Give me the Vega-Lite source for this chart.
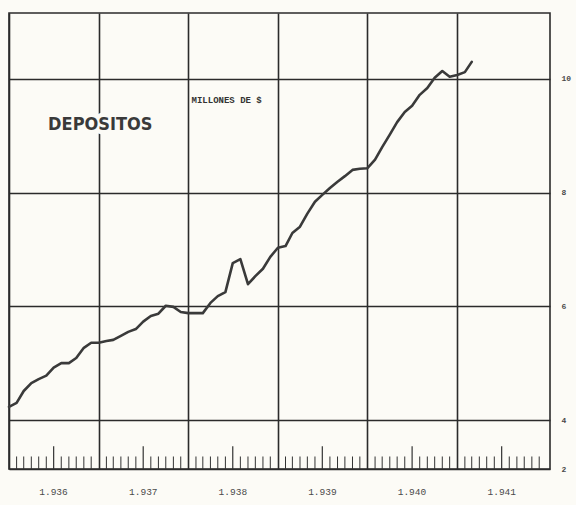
{
  "$schema": "https://vega.github.io/schema/vega-lite/v6.json",
  "width": 541,
  "height": 456,
  "autosize": {"type": "none"},
  "padding": {"left": 9, "top": 13, "right": 26, "bottom": 36},
  "background": "#fcfbf6",
  "config": {
    "view": {"stroke": "#2b2b2b", "strokeWidth": 1.6},
    "axis": {"domain": false}
  },
  "datasets": {
    "depositos": [
      {"fecha": "1936-01", "millones": 4.23}, {"fecha": "1936-02", "millones": 4.30}, {"fecha": "1936-03", "millones": 4.51}, {"fecha": "1936-04", "millones": 4.65}, {"fecha": "1936-05", "millones": 4.72}, {"fecha": "1936-06", "millones": 4.78}, {"fecha": "1936-07", "millones": 4.92}, {"fecha": "1936-08", "millones": 5.00}, {"fecha": "1936-09", "millones": 5.00}, {"fecha": "1936-10", "millones": 5.09}, {"fecha": "1936-11", "millones": 5.27}, {"fecha": "1936-12", "millones": 5.36},
      {"fecha": "1937-01", "millones": 5.36}, {"fecha": "1937-02", "millones": 5.39}, {"fecha": "1937-03", "millones": 5.41}, {"fecha": "1937-04", "millones": 5.48}, {"fecha": "1937-05", "millones": 5.55}, {"fecha": "1937-06", "millones": 5.60}, {"fecha": "1937-07", "millones": 5.73}, {"fecha": "1937-08", "millones": 5.83}, {"fecha": "1937-09", "millones": 5.87}, {"fecha": "1937-10", "millones": 6.01}, {"fecha": "1937-11", "millones": 5.99}, {"fecha": "1937-12", "millones": 5.90},
      {"fecha": "1938-01", "millones": 5.88}, {"fecha": "1938-02", "millones": 5.88}, {"fecha": "1938-03", "millones": 5.88}, {"fecha": "1938-04", "millones": 6.06}, {"fecha": "1938-05", "millones": 6.18}, {"fecha": "1938-06", "millones": 6.25}, {"fecha": "1938-07", "millones": 6.76}, {"fecha": "1938-08", "millones": 6.83}, {"fecha": "1938-09", "millones": 6.39}, {"fecha": "1938-10", "millones": 6.53}, {"fecha": "1938-11", "millones": 6.66}, {"fecha": "1938-12", "millones": 6.87},
      {"fecha": "1939-01", "millones": 7.03}, {"fecha": "1939-02", "millones": 7.06}, {"fecha": "1939-03", "millones": 7.29}, {"fecha": "1939-04", "millones": 7.40}, {"fecha": "1939-05", "millones": 7.63}, {"fecha": "1939-06", "millones": 7.84}, {"fecha": "1939-07", "millones": 7.96}, {"fecha": "1939-08", "millones": 8.08}, {"fecha": "1939-09", "millones": 8.19}, {"fecha": "1939-10", "millones": 8.29}, {"fecha": "1939-11", "millones": 8.40}, {"fecha": "1939-12", "millones": 8.42},
      {"fecha": "1940-01", "millones": 8.43}, {"fecha": "1940-02", "millones": 8.58}, {"fecha": "1940-03", "millones": 8.80}, {"fecha": "1940-04", "millones": 9.02}, {"fecha": "1940-05", "millones": 9.24}, {"fecha": "1940-06", "millones": 9.42}, {"fecha": "1940-07", "millones": 9.53}, {"fecha": "1940-08", "millones": 9.72}, {"fecha": "1940-09", "millones": 9.84}, {"fecha": "1940-10", "millones": 10.02}, {"fecha": "1940-11", "millones": 10.14}, {"fecha": "1940-12", "millones": 10.04},
      {"fecha": "1941-01", "millones": 10.07}, {"fecha": "1941-02", "millones": 10.12}, {"fecha": "1941-03", "millones": 10.30}
    ],
    "meses": [
      {"fecha": "1936-02"}, {"fecha": "1936-03"}, {"fecha": "1936-04"}, {"fecha": "1936-05"}, {"fecha": "1936-06"}, {"fecha": "1936-08"}, {"fecha": "1936-09"}, {"fecha": "1936-10"}, {"fecha": "1936-11"}, {"fecha": "1936-12"},
      {"fecha": "1937-02"}, {"fecha": "1937-03"}, {"fecha": "1937-04"}, {"fecha": "1937-05"}, {"fecha": "1937-06"}, {"fecha": "1937-08"}, {"fecha": "1937-09"}, {"fecha": "1937-10"}, {"fecha": "1937-11"}, {"fecha": "1937-12"},
      {"fecha": "1938-02"}, {"fecha": "1938-03"}, {"fecha": "1938-04"}, {"fecha": "1938-05"}, {"fecha": "1938-06"}, {"fecha": "1938-08"}, {"fecha": "1938-09"}, {"fecha": "1938-10"}, {"fecha": "1938-11"}, {"fecha": "1938-12"},
      {"fecha": "1939-02"}, {"fecha": "1939-03"}, {"fecha": "1939-04"}, {"fecha": "1939-05"}, {"fecha": "1939-06"}, {"fecha": "1939-08"}, {"fecha": "1939-09"}, {"fecha": "1939-10"}, {"fecha": "1939-11"}, {"fecha": "1939-12"},
      {"fecha": "1940-02"}, {"fecha": "1940-03"}, {"fecha": "1940-04"}, {"fecha": "1940-05"}, {"fecha": "1940-06"}, {"fecha": "1940-08"}, {"fecha": "1940-09"}, {"fecha": "1940-10"}, {"fecha": "1940-11"}, {"fecha": "1940-12"},
      {"fecha": "1941-02"}, {"fecha": "1941-03"}, {"fecha": "1941-04"}, {"fecha": "1941-05"}, {"fecha": "1941-06"}, {"fecha": "1941-08"}, {"fecha": "1941-09"}, {"fecha": "1941-10"}, {"fecha": "1941-11"}, {"fecha": "1941-12"}
    ],
    "mitades": [
      {"fecha": "1936-07"}, {"fecha": "1937-07"}, {"fecha": "1938-07"}, {"fecha": "1939-07"}, {"fecha": "1940-07"}, {"fecha": "1941-07"}
    ],
    "rotulos": [
      {"fecha": "1937-01-07", "millones": 9.19, "texto": "DEPOSITOS"}
    ],
    "unidades": [
      {"fecha": "1938-01-14", "millones": 9.63, "texto": "MILLONES DE $"}
    ]
  },
  "layer": [
    {
      "data": {"name": "meses"},
      "mark": {"type": "rule", "color": "#333333", "strokeWidth": 1},
      "encoding": {
        "x": {
          "field": "fecha",
          "type": "temporal",
          "scale": {
            "type": "utc",
            "domain": [
              {"year": 1936, "month": 1, "date": 1, "utc": true},
              {"year": 1942, "month": 1, "date": 14, "utc": true}
            ]
          },
          "axis": {
            "orient": "bottom",
            "title": null,
            "values": [
              {"year": 1936, "month": 1, "date": 1, "utc": true},
              {"year": 1937, "month": 1, "date": 1, "utc": true},
              {"year": 1938, "month": 1, "date": 1, "utc": true},
              {"year": 1939, "month": 1, "date": 1, "utc": true},
              {"year": 1940, "month": 1, "date": 1, "utc": true},
              {"year": 1941, "month": 1, "date": 1, "utc": true}
            ],
            "grid": true,
            "gridColor": "#2b2b2b",
            "gridWidth": 1.6,
            "gridOpacity": 1,
            "ticks": false,
            "labelOffset": 44,
            "labelPadding": 17,
            "labelExpr": "'1.' + substring(utcFormat(datum.value, '%Y'), 1)",
            "labelFont": "Liberation Mono",
            "labelFontSize": 9.5,
            "labelColor": "#4a4a4a",
            "labelFlush": false,
            "labelOverlap": false
          }
        },
        "y": {
          "datum": 3.138,
          "type": "quantitative",
          "scale": {"domain": [3.138, 11.16], "nice": false, "zero": false},
          "axis": {
            "orient": "right",
            "title": null,
            "values": [3.138, 4, 6, 8, 10],
            "format": "d",
            "labelExpr": "datum.value < 3.5 ? '2' : datum.label",
            "grid": true,
            "gridColor": "#2b2b2b",
            "gridWidth": 1.6,
            "gridOpacity": 1,
            "ticks": false,
            "labelPadding": 11,
            "labelFont": "Liberation Mono",
            "labelFontSize": 8,
            "labelFontWeight": "bold",
            "labelColor": "#4a4a4a"
          }
        },
        "y2": {"datum": 3.358}
      }
    },
    {
      "data": {"name": "mitades"},
      "mark": {"type": "rule", "color": "#333333", "strokeWidth": 1.2},
      "encoding": {
        "x": {"field": "fecha", "type": "temporal"},
        "y": {"datum": 3.138, "type": "quantitative"},
        "y2": {"datum": 3.538}
      }
    },
    {
      "data": {"name": "depositos"},
      "mark": {"type": "line", "color": "#3a3a3a", "strokeWidth": 2.6, "strokeJoin": "round", "strokeCap": "round"},
      "encoding": {
        "x": {"field": "fecha", "type": "temporal"},
        "y": {"field": "millones", "type": "quantitative"}
      }
    },
    {
      "data": {"name": "rotulos"},
      "mark": {"type": "text", "font": "DejaVu Sans Condensed", "fontSize": 18, "fontWeight": "bold", "align": "center", "baseline": "middle", "stroke": "#fcfbf6", "strokeWidth": 9, "strokeJoin": "round"},
      "encoding": {
        "x": {"field": "fecha", "type": "temporal"},
        "y": {"field": "millones", "type": "quantitative"},
        "text": {"field": "texto"}
      }
    },
    {
      "data": {"name": "rotulos"},
      "mark": {"type": "text", "font": "DejaVu Sans Condensed", "fontSize": 18, "fontWeight": "bold", "align": "center", "baseline": "middle", "color": "#3a3a3a"},
      "encoding": {
        "x": {"field": "fecha", "type": "temporal"},
        "y": {"field": "millones", "type": "quantitative"},
        "text": {"field": "texto"}
      }
    },
    {
      "data": {"name": "unidades"},
      "mark": {"type": "text", "font": "Liberation Mono", "fontSize": 9, "fontWeight": "bold", "align": "left", "baseline": "middle", "color": "#333333"},
      "encoding": {
        "x": {"field": "fecha", "type": "temporal"},
        "y": {"field": "millones", "type": "quantitative"},
        "text": {"field": "texto"}
      }
    }
  ]
}
